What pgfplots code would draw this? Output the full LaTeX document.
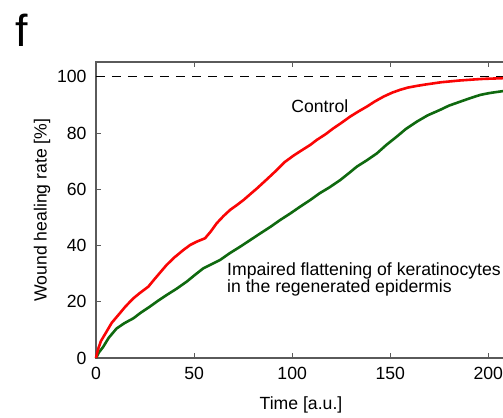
\documentclass[border=0pt]{standalone}
\usepackage{pgfplots}
\pgfplotsset{compat=1.18}
\usepackage{fontspec}
\setmainfont{Liberation Sans}
\definecolor{cred}{RGB}{250,5,5}
\definecolor{cgreen}{RGB}{15,105,15}
\definecolor{axgray}{RGB}{90,90,90}
\newcommand{\lblfont}{\fontsize{17.7}{21}\selectfont}
\begin{document}
\begin{tikzpicture}
\begin{axis}[
  scale only axis, width=410bp, height=296bp,
  xmin=0, xmax=209, ymin=0, ymax=105.3,
  axis line style={draw=none},
  xtick={0,50,100,150,200}, ytick={0,20,40,60,80,100},
  xtick pos=both, ytick pos=left,
  tick align=inside, major tick length=5bp,
  tick style={axgray, line width=1bp},
  /pgf/number format/assume math mode=true,
  tick label style={font=\lblfont},
  xticklabel style={yshift=-6bp},
  yticklabel style={xshift=-6bp},
  label style={font=\lblfont},
  xlabel style={yshift=-10bp},
  xlabel={Time [a.u.]}, ylabel={Wound healing rate [\%]},
  clip=false,
]
\coordinate (O) at (rel axis cs:0,0);
\draw[axgray, line width=1.5bp] (rel axis cs:1,1) -- (rel axis cs:0,1) -- (rel axis cs:0,0) -- (rel axis cs:1,0);
\addplot[black, line width=1.2bp, dash pattern=on 9bp off 7bp] coordinates {(0,100)(209,100)};
\addplot[cgreen, line width=2.6bp] coordinates {
(0,0)(1.5,2)(3.7,4)(6.5,7.2)(10.5,10.5)(14.5,12.4)(19,14.1)(23,16.2)(27.5,18.3)(31.5,20.3)(36,22.4)(41,24.6)(46.3,27.2)(50.5,29.6)(54.7,31.9)(59,33.4)(63.3,34.9)(68,37.2)(73.5,39.6)(78.5,41.9)(83.7,44.3)(89,46.7)(93.9,49.1)(99,51.4)(104,53.8)(109.2,56.2)(114,58.6)(119,60.7)(124.5,63.3)(129,65.8)(133,68.1)(138,70.3)(143.2,72.8)(148,75.8)(153.4,78.8)(158,81.5)(163.6,84.1)(169,86.3)(175.5,88.3)(180,89.8)(185.7,91.2)(191,92.5)(195.9,93.6)(201,94.3)(206,94.8)(209,95.1)
};
\addplot[cred, line width=2.6bp] coordinates {
(0,0)(1,3)(2.5,6)(5.4,9.4)(8,12.5)(11.4,15.3)(15,18.3)(19,21.2)(22.5,23.2)(26.7,25.4)(30,28.2)(36,33.1)(40,35.8)(44.5,38.4)(48,40.2)(51.4,41.4)(55.6,42.6)(58.5,45)(61.5,47.9)(65,50.5)(68.4,52.7)(71.8,54.4)(75.2,56.2)(78.5,58.2)(82,60.3)(87,63.5)(92.2,66.9)(96,69.6)(100.7,72)(104,73.5)(109.2,75.8)(112.6,77.6)(117,79.6)(121,81.7)(125,83.6)(129.6,85.9)(134,87.8)(138,89.4)(142,91.2)(146.6,93)(151,94.4)(155,95.4)(159,96.2)(163.6,96.8)(168,97.3)(172,97.7)(176,98.1)(180.6,98.4)(185,98.7)(189,98.9)(193,99.1)(197.6,99.3)(202,99.4)(206,99.5)(209,99.6)
};
\node[anchor=base west, font=\lblfont, inner sep=0pt] at (axis cs:99.5,87.5) {Control};
\node[anchor=base west, font=\lblfont, inner sep=0pt] at (axis cs:66.8,29.5) {Impaired flattening of keratinocytes};
\node[anchor=base west, font=\lblfont, inner sep=0pt] at (axis cs:66.8,23.2) {in the regenerated epidermis};
\end{axis}
\node[anchor=base west, font=\fontsize{45}{45}\selectfont, inner sep=0pt] at ([shift={(-81bp,311bp)}]O) {f};
\pgfresetboundingbox
\path[use as bounding box] ([shift={(-96bp,-60bp)}]O) rectangle ([shift={(407bp,358bp)}]O);
\end{tikzpicture}
\end{document}
